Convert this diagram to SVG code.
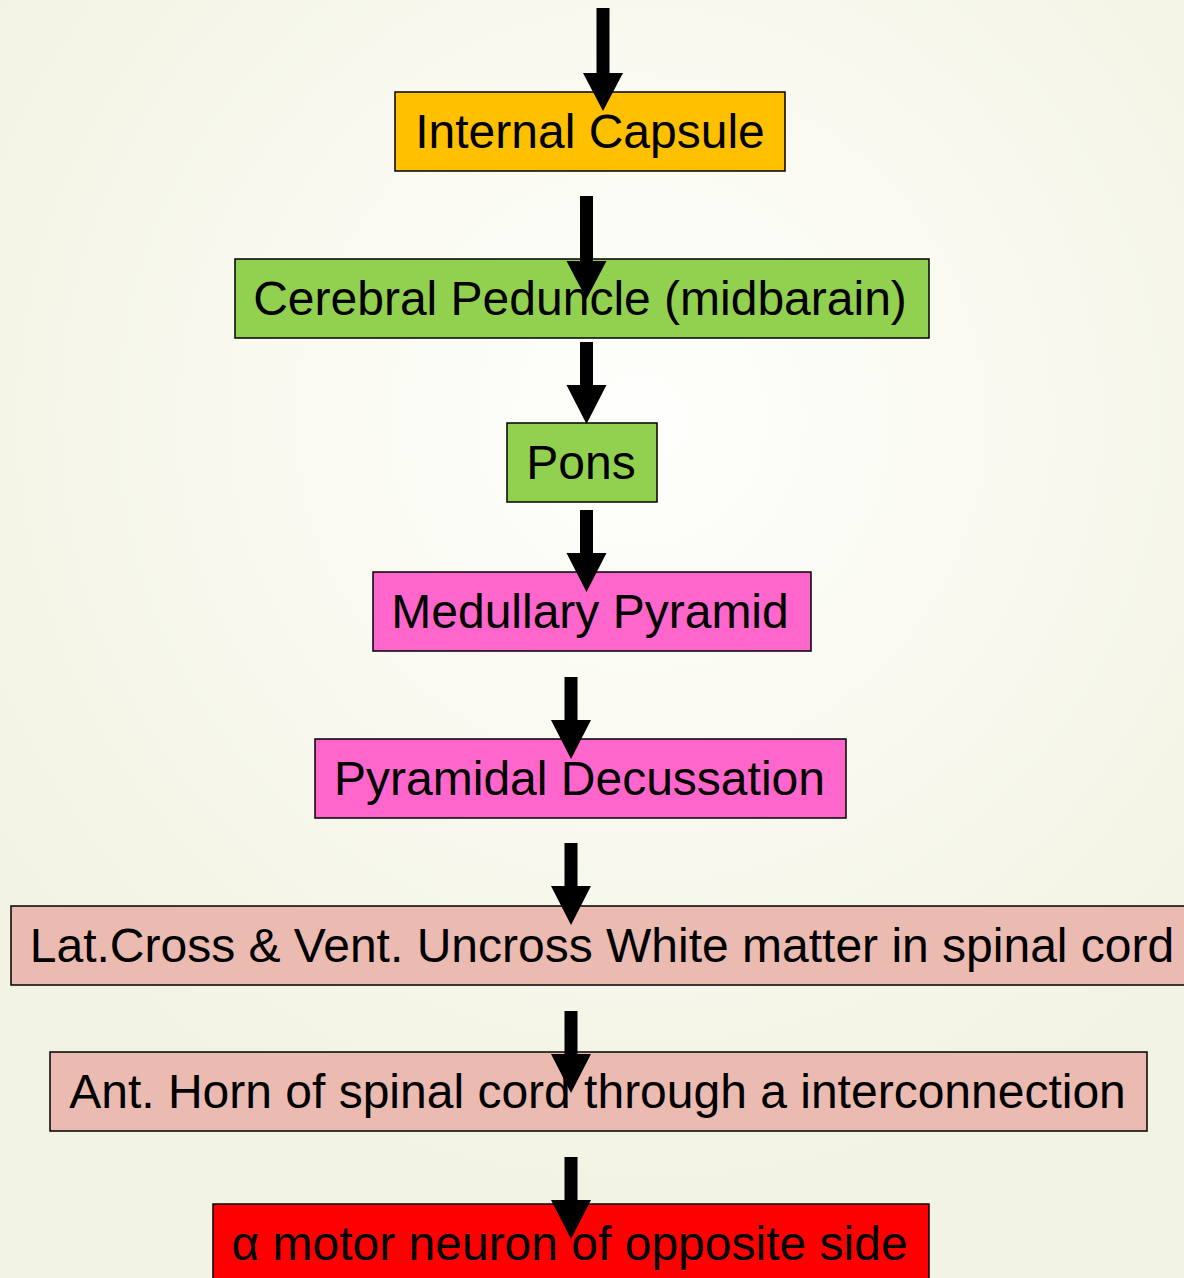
<svg xmlns="http://www.w3.org/2000/svg" width="1184" height="1278" viewBox="0 0 1184 1278">
<defs>
<radialGradient id="bg" cx="640" cy="420" r="760" gradientUnits="userSpaceOnUse">
<stop offset="0" stop-color="#fefefc"/>
<stop offset="0.45" stop-color="#fafaf2"/>
<stop offset="1" stop-color="#f2f3e2"/>
</radialGradient>
<polygon id="arrL" points="-6.5,0 6.5,0 6.5,65 20,65 0,103 -20,65 -6.5,65" fill="#000"/>
<polygon id="arrS" points="-6.5,0 6.5,0 6.5,43 20,43 0,82 -20,43 -6.5,43" fill="#000"/>
</defs>
<style>
.box{stroke:#000;stroke-width:1.5}
.t{font-family:"Liberation Sans",Arial,sans-serif;font-size:48px;fill:#000;text-anchor:middle}
</style>
<rect width="1184" height="1278" fill="url(#bg)"/>
<g id="n1"><rect class="box" x="395" y="92" width="390" height="79" fill="#FFC000"/><text class="t" x="590" y="148">Internal Capsule</text></g>
<g id="n2"><rect class="box" x="235" y="259" width="694" height="79" fill="#92D050"/><text class="t" x="580" y="315">Cerebral Peduncle (midbarain)</text></g>
<g id="n3"><rect class="box" x="507" y="423" width="150" height="79" fill="#92D050"/><text class="t" x="581" y="479">Pons</text></g>
<g id="n4"><rect class="box" x="373" y="572" width="438" height="79" fill="#FF66CC"/><text class="t" x="590" y="628">Medullary Pyramid</text></g>
<g id="n5"><rect class="box" x="315" y="739" width="531" height="79" fill="#FF66CC"/><text class="t" x="579.5" y="795">Pyramidal Decussation</text></g>
<g id="n6"><rect class="box" x="11" y="906" width="1190" height="79" fill="#EBBAB0"/><text class="t" x="602" y="962">Lat.Cross &amp; Vent. Uncross White matter in spinal cord</text></g>
<g id="n7"><rect class="box" x="50" y="1052" width="1097" height="79" fill="#EBBAB0"/><text class="t" x="597.5" y="1108">Ant. Horn of spinal cord through a interconnection</text></g>
<g id="n8"><rect class="box" x="213" y="1204" width="716" height="90" fill="#FF0000"/><text class="t" x="569.5" y="1260">α motor neuron of opposite side</text></g>
<g id="connectors">
<use href="#arrL" x="603" y="8"/>
<use href="#arrL" x="586.5" y="196" transform="translate(0,0)"/>
<use href="#arrS" x="586.5" y="342"/>
<use href="#arrS" x="586.5" y="510"/>
<use href="#arrS" x="571" y="677"/>
<use href="#arrS" x="571" y="843"/>
<use href="#arrS" x="571" y="1011"/>
<use href="#arrS" x="571" y="1157"/>
</g>
</svg>
